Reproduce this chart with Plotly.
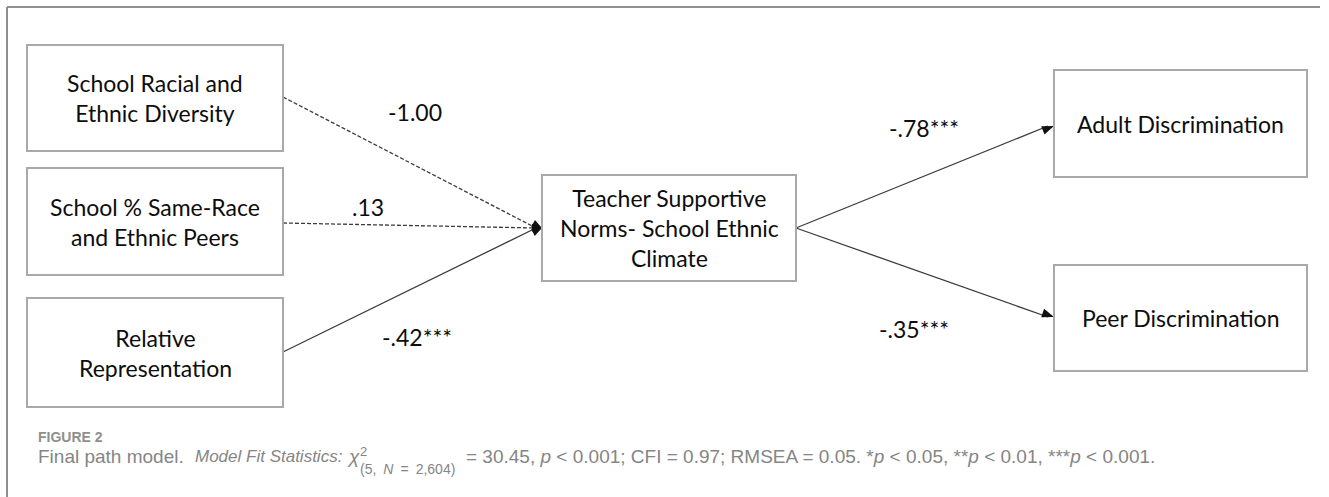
import plotly.graph_objects as go

W, H = 1329, 497

# ---- model variables -------------------------------------------------------
predictors = [
    "School Racial and<br>Ethnic Diversity",
    "School % Same-Race<br>and Ethnic Peers",
    "Relative<br>Representation",
]
mediator = "Teacher Supportive<br>Norms- School Ethnic<br>Climate"
outcomes = ["Adult Discrimination", "Peer Discrimination"]

# ---- standardised path coefficients ----------------------------------------
coef_in = [-1.00, 0.13, -0.42]        # predictors -> mediator
stars_in = ["", "", "***"]
coef_out = [-0.78, -0.35]             # mediator -> outcomes
stars_out = ["***", "***"]

# ---- caption ---------------------------------------------------------------
fig_label = "FIGURE 2"
caption_title = "Final path model."
caption_stats_label = "<i>Model Fit Statistics:</i>"
chi_sub = "(5,\u2002<i>N</i>\u2002=\u20022,604)"
caption_tail = ("= 30.45, <i>p</i> < 0.001; CFI = 0.97; RMSEA = 0.05. "
                "*<i>p</i> < 0.05, **<i>p</i> < 0.01, ***<i>p</i> < 0.001.")

# ---- diagram geometry (pixel space, y grows downward) ----------------------
pred_boxes = [(27, 45, 283, 151), (27, 168, 283, 275), (27, 298, 283, 407)]
med_box = (542, 175, 796, 281)
out_boxes = [(1054, 70, 1307, 177), (1054, 265, 1307, 371)]
pred_anchor_y = [97, 223, 352]
med_in = (542, 228)
med_out = (796, 228)
out_anchor_y = [126, 317]
in_label_pos = [(415, 112), (368, 207), (417, 337)]
out_label_pos = [(924, 128), (914, 329)]

BOX_LINE = "#a9a9a9"
EDGE = "#3c3c3c"
TEXT = "#0d0d0d"
FONT = "Lato"
CAP_FONT = "Liberation Sans"


def fmt_coef(v, stars):
    s = f"{v:.2f}"
    if s.startswith("0."):
        s = s[1:]
    elif s.startswith("-0."):
        s = "-" + s[2:]
    return s + stars


def arrow_head(start, tip, length=11, half=4):
    dx, dy = tip[0] - start[0], tip[1] - start[1]
    n = (dx * dx + dy * dy) ** 0.5
    ux, uy = dx / n, dy / n
    bx, by = tip[0] - length * ux, tip[1] - length * uy
    px, py = -uy, ux
    return (f"M{tip[0]},{tip[1]} L{bx + half * px},{by + half * py} "
            f"L{bx - half * px},{by - half * py} Z")


fig = go.Figure()
shapes = []
annotations = []

# outer frame (top and left rules)
shapes.append(dict(type="line", x0=7, y0=7, x1=1320, y1=7,
                   line=dict(color="#8f8f8f", width=2)))
shapes.append(dict(type="line", x0=7, y0=7, x1=7, y1=H,
                   line=dict(color="#8f8f8f", width=2)))

# edges: predictors -> mediator (dashed when not significant)
for i, (v, st) in enumerate(zip(coef_in, stars_in)):
    start = (pred_boxes[i][2], pred_anchor_y[i])
    dash = "solid" if st else "4px,2px"
    fig.add_trace(go.Scatter(x=[start[0], med_in[0] - 6], y=[start[1], med_in[1]],
                             mode="lines", line=dict(color=EDGE, width=1.3, dash=dash),
                             hoverinfo="skip", showlegend=False))
    shapes.append(dict(type="path", path=arrow_head(start, med_in, 10, 4),
                       fillcolor="#111111", line=dict(width=0)))
    lx, ly = in_label_pos[i]
    annotations.append(dict(x=lx, y=ly, text=fmt_coef(v, st), showarrow=False,
                            font=dict(family=FONT, size=23, color=TEXT)))

# edges: mediator -> outcomes
for j, (v, st) in enumerate(zip(coef_out, stars_out)):
    tip = (out_boxes[j][0], out_anchor_y[j])
    fig.add_trace(go.Scatter(x=[med_out[0], tip[0] - 6], y=[med_out[1], tip[1]],
                             mode="lines", line=dict(color=EDGE, width=1.3),
                             hoverinfo="skip", showlegend=False))
    shapes.append(dict(type="path", path=arrow_head(med_out, tip, 12, 4.5),
                       fillcolor="#111111", line=dict(width=0)))
    lx, ly = out_label_pos[j]
    annotations.append(dict(x=lx, y=ly, text=fmt_coef(v, st), showarrow=False,
                            font=dict(family=FONT, size=23, color=TEXT)))

# variable boxes
for box, label in ([(b, t) for b, t in zip(pred_boxes, predictors)]
                   + [(med_box, mediator)]
                   + [(b, t) for b, t in zip(out_boxes, outcomes)]):
    x0, y0, x1, y1 = box
    shapes.append(dict(type="rect", x0=x0, y0=y0, x1=x1, y1=y1,
                       fillcolor="white", line=dict(color=BOX_LINE, width=2),
                       layer="above"))
    annotations.append(dict(x=(x0 + x1) / 2, y=(y0 + y1) / 2, text=label,
                            showarrow=False,
                            font=dict(family=FONT, size=23, color=TEXT)))

# caption
CAP = "#858585"


def cap(x, y, text, size, color=CAP, weight="normal"):
    annotations.append(dict(x=x, y=y, text=text, showarrow=False, xanchor="left",
                            yanchor="middle", align="left",
                            font=dict(family=CAP_FONT, size=size, color=color,
                                      weight=weight)))


cap(36, 436.5, fig_label, 14, color="#8f8f8f", weight="bold")
cap(36, 456.5, caption_title, 19)
cap(193, 456.5, caption_stats_label, 17)
cap(345, 456.5, "<i>χ</i>", 19)
cap(358, 451, "2", 13)
cap(358, 469, chi_sub, 14)
cap(464, 456.5, caption_tail, 19)

fig.update_layout(
    width=W, height=H,
    margin=dict(l=0, r=0, t=0, b=0),
    paper_bgcolor="white", plot_bgcolor="white",
    xaxis=dict(range=[0, W], visible=False, fixedrange=True),
    yaxis=dict(range=[H, 0], visible=False, fixedrange=True),
    shapes=shapes, annotations=annotations,
    showlegend=False,
)

fig.write_html("out.html")
